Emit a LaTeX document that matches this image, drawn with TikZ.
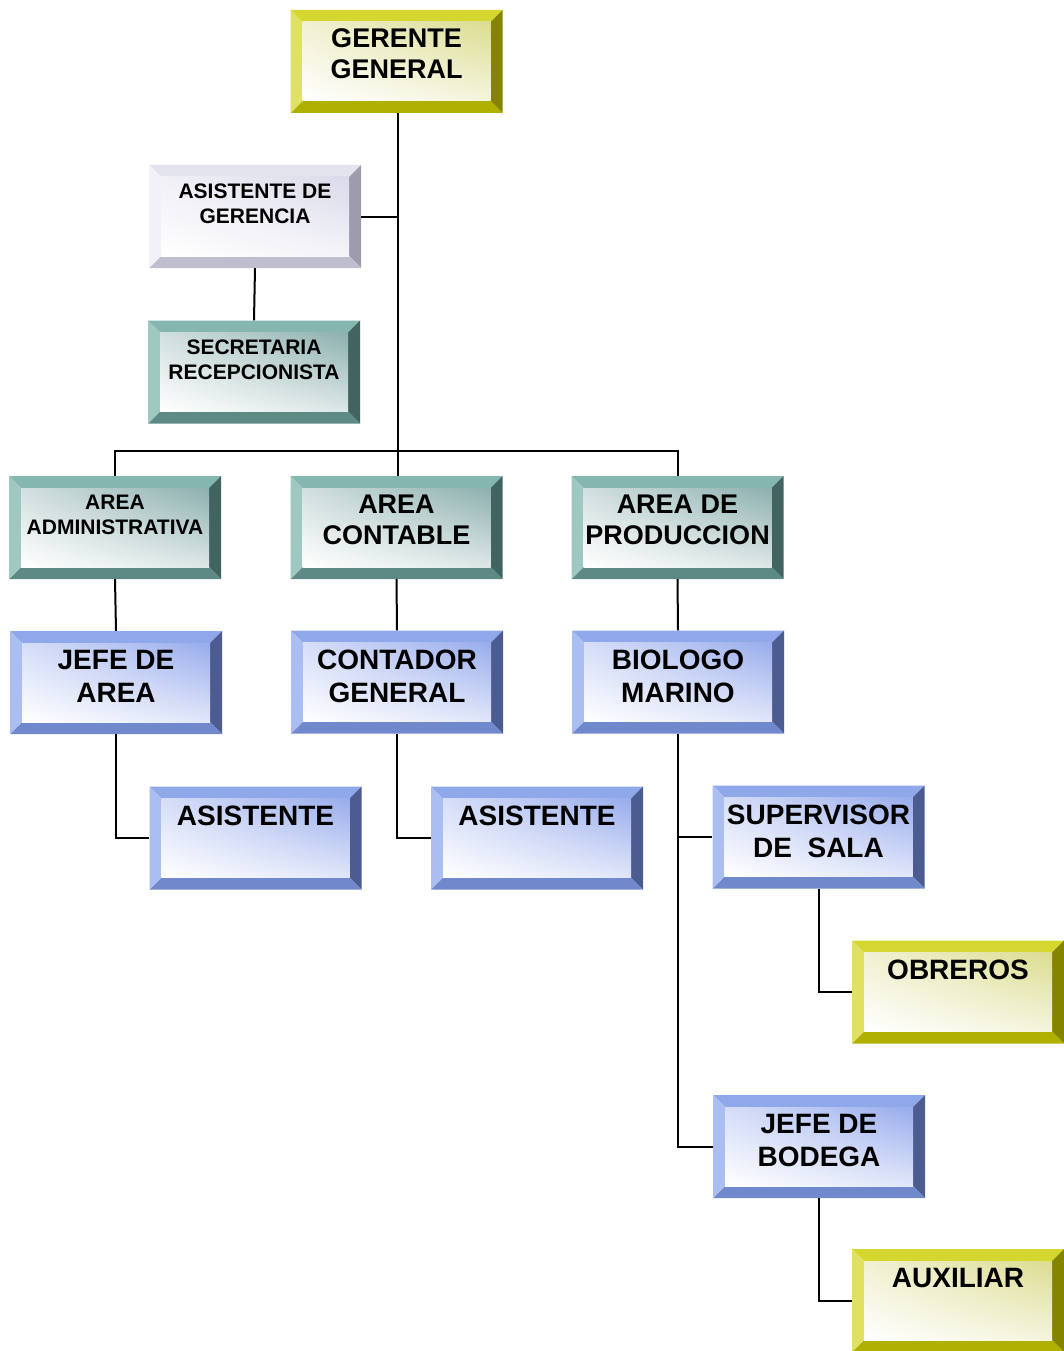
\documentclass[tikz,border=0pt]{standalone}
\usepackage{fontspec}
\setmainfont{Liberation Sans}
\usepackage{tikz}
\usetikzlibrary{shadings}

% bevel colours: T top, L left, R right, B bottom, F face tint
\definecolor{yelT}{HTML}{D6D630}
\definecolor{yelL}{HTML}{E0E064}
\definecolor{yelR}{HTML}{848400}
\definecolor{yelB}{HTML}{B0B000}
\definecolor{yelF}{HTML}{DCDC90}
\definecolor{lavT}{HTML}{E4E4EE}
\definecolor{lavL}{HTML}{F1F1F8}
\definecolor{lavR}{HTML}{9C9CAE}
\definecolor{lavB}{HTML}{BEBECF}
\definecolor{lavF}{HTML}{DADAEA}
\definecolor{tealT}{HTML}{86B6B0}
\definecolor{tealL}{HTML}{A0C8C2}
\definecolor{tealR}{HTML}{426461}
\definecolor{tealB}{HTML}{5E8A86}
\definecolor{tealF}{HTML}{8CB0AE}
\definecolor{bluT}{HTML}{8FA8EA}
\definecolor{bluL}{HTML}{AABEF2}
\definecolor{bluR}{HTML}{4C5C90}
\definecolor{bluB}{HTML}{7088CC}
\definecolor{bluF}{HTML}{98ACEC}

\tikzset{
  bevelbox/.style={rectangle, minimum width=212pt, minimum height=103pt, inner sep=0pt,
    path picture={
      \path (path picture bounding box.south west) coordinate (bl)
            (path picture bounding box.south east) coordinate (br)
            (path picture bounding box.north east) coordinate (tr)
            (path picture bounding box.north west) coordinate (tl)
            ([shift={(12pt,12pt)}]bl) coordinate (ibl)
            ([shift={(-12pt,12pt)}]br) coordinate (ibr)
            ([shift={(-12pt,-12pt)}]tr) coordinate (itr)
            ([shift={(12pt,-12pt)}]tl) coordinate (itl);
      \fill[#1T] (tl) -- (tr) -- (itr) -- (itl) -- cycle;
      \fill[#1R] (tr) -- (br) -- (ibr) -- (itr) -- cycle;
      \fill[#1B] (br) -- (bl) -- (ibl) -- (ibr) -- cycle;
      \fill[#1L] (bl) -- (tl) -- (itl) -- (ibl) -- cycle;
      \shade[upper right=#1F, upper left=#1F!40!white, lower right=#1F!30!white, lower left=white]
        (ibl) rectangle (itr);
    }},
  bigtxt/.style={font=\fontsize{28}{33}\selectfont\bfseries, align=center, inner sep=0pt},
  midtxt/.style={font=\fontsize{27}{31}\selectfont\bfseries, align=center, inner sep=0pt},
  smalltxt/.style={font=\fontsize{21}{25}\selectfont\bfseries, align=center, inner sep=0pt},
  link/.style={line width=2pt}
}

% box with its caption set near the top
\newcommand{\orgbox}[6]{%
  \node[bevelbox=#4] (#1) at (#2,#3) {};
  \node[#5, anchor=north] (#1-txt) at ([yshift=-19pt]#1.north) {#6};
}

\begin{document}
\begin{tikzpicture}[x=1pt, y=-1pt]
  \useasboundingbox (0,0) rectangle (1063,1351);

  % management
  \orgbox{gg}{396.5}{61.5}{yel}{midtxt}{GERENTE\\GENERAL}
  \orgbox{asg}{255}{216.5}{lav}{smalltxt}{ASISTENTE DE\\GERENCIA}
  \orgbox{sec}{254}{372}{teal}{smalltxt}{SECRETARIA\\RECEPCIONISTA}

  % areas
  \orgbox{adm}{115}{527.5}{teal}{smalltxt}{AREA\\ADMINISTRATIVA}
  \orgbox{con}{396.5}{527.5}{teal}{midtxt}{AREA\\CONTABLE}
  \orgbox{pro}{677.5}{527.5}{teal}{midtxt}{AREA DE\\PRODUCCION}

  % heads
  \orgbox{jefa}{116}{682.5}{blu}{bigtxt}{JEFE DE\\AREA}
  \orgbox{cont}{397}{682}{blu}{bigtxt}{CONTADOR\\GENERAL}
  \orgbox{bio}{678}{682}{blu}{bigtxt}{BIOLOGO\\MARINO}

  % staff
  \orgbox{asi1}{255.5}{838}{blu}{bigtxt}{ASISTENTE}
  \orgbox{asi2}{537}{838}{blu}{bigtxt}{ASISTENTE}
  \orgbox{sup}{818.5}{837}{blu}{bigtxt}{SUPERVISOR\\DE\ \ SALA}
  \orgbox{obr}{958}{992}{yel}{bigtxt}{OBREROS}
  \orgbox{bod}{819}{1146.5}{blu}{bigtxt}{JEFE DE\\BODEGA}
  \orgbox{aux}{958}{1300.5}{yel}{bigtxt}{AUXILIAR}

  % connectors
  \coordinate (bus) at (398,451);
  \draw[link] (gg.south -| bus) -- (con.north -| bus);
  \draw[link] (asg.east) -- (asg.east -| bus);
  \draw[link] (asg.south) -- (sec.north);
  \draw[link] (adm.north) |- (bus) -| (pro.north);
  \draw[link] (adm.south) -- (jefa.north);
  \draw[link] (con.south) -- (cont.north);
  \draw[link] (pro.south) -- (bio.north);
  \draw[link] (jefa.south) |- (asi1.west);
  \draw[link] (cont.south) |- (asi2.west);
  \draw[link] (bio.south) |- (bod.west);
  \draw[link] (bio.south |- sup.west) -- (sup.west);
  \draw[link] (sup.south) |- (obr.west);
  \draw[link] (bod.south) |- (aux.west);
\end{tikzpicture}
\end{document}
